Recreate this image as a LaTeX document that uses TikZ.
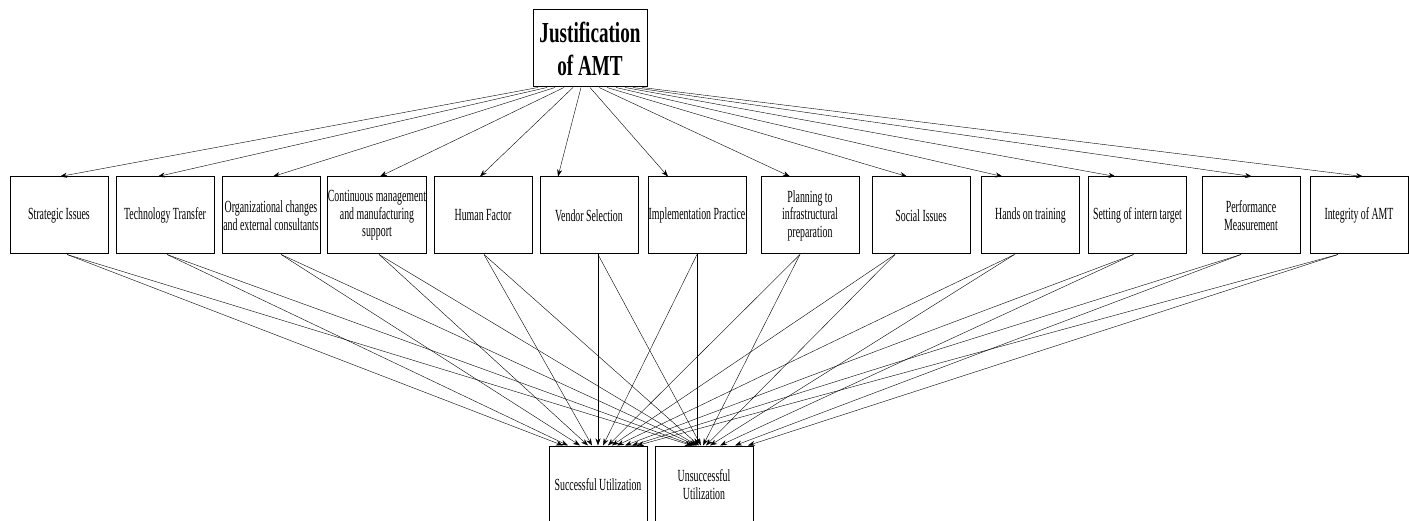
\documentclass[tikz,border=0pt]{standalone}
\usepackage{fontspec}
\usepackage{tikz}
\usetikzlibrary{arrows.meta}
\usetikzlibrary{positioning,calc}
\newfontfamily\boxfont{Liberation Serif}[FakeStretch=0.58]
\newfontfamily\titlefont{Liberation Serif}[FakeStretch=0.66]
\tikzset{
	every node/.style={font=\boxfont\fontsize{17}{17.5}\selectfont}
}
\tikzset{
	title node/.style={rectangle,draw,line width=1pt,minimum width=114pt,minimum height=77pt,
		align=center,inner sep=1pt,font=\titlefont\bfseries\fontsize{29}{33}\selectfont}
}
\tikzset{
	->,>={Stealth[length=7pt,width=5pt]},line width=0.9pt,x=1pt,y=-1pt,
	main node/.style={rectangle,draw,line width=1pt,minimum width=98pt,minimum height=77pt,
		align=center,inner sep=0pt}
}
\begin{document}
\begin{tikzpicture}
      \useasboundingbox (0,0) rectangle (1409,521);
      \node[title node] (just) at (590,48.5) {Justification\\of AMT};
      % factors
      \node[main node] (strat) at (59,215.5) {Strategic Issues};
      \node[main node] (tech) at (165,215.5) {Technology Transfer};
      \node[main node] (org) at (271,215.5) {Organizational changes\\and external consultants};
      \node[main node] (cont) at (377,215.5) {Continuous management\\and manufacturing\\support};
      \node[main node] (human) at (483,215.5) {Human Factor};
      \node[main node] (vendor) at (589,215.5) {Vendor Selection};
      \node[main node] (impl) at (697,215.5) {Implementation Practice};
      \node[main node] (plan) at (810,215.5) {Planning to\\infrastructural\\preparation};
      \node[main node] (social) at (921,215.5) {Social Issues};
      \node[main node] (hands) at (1030.5,215.5) {Hands on training};
      \node[main node] (target) at (1137.5,215.5) {Setting of intern target};
      \node[main node] (perf) at (1251,215.5) {Performance\\Measurement};
      \node[main node] (integ) at (1359,215.5) {Integrity of AMT};
      % outcomes
      \node[main node] (succ) at (598,484.5) {Successful Utilization};
      \node[main node] (unsucc) at (704,484.5) {Unsuccessful\\Utilization};
      % justification to factors
      \path ([xshift=-52pt]just.south) edge ([xshift=1pt]strat.north);
      \path ([xshift=-43pt]just.south) edge ([xshift=-7pt]tech.north);
      \path ([xshift=-35pt]just.south) edge ([xshift=2pt]org.north);
      \path ([xshift=-26pt]just.south) edge ([xshift=3pt]cont.north);
      \path ([xshift=-17pt]just.south) edge ([xshift=-3pt]human.north);
      \path ([xshift=-9pt]just.south) edge ([xshift=-31pt]vendor.north);
      \path (just.south) edge ([xshift=-29pt]impl.north);
      \path ([xshift=9pt]just.south) edge ([xshift=-20pt]plan.north);
      \path ([xshift=17pt]just.south) edge ([xshift=-14pt]social.north);
      \path ([xshift=26pt]just.south) edge ([xshift=-28pt]hands.north);
      \path ([xshift=35pt]just.south) edge ([xshift=-22pt]target.north);
      \path ([xshift=43pt]just.south) edge ([xshift=1pt]perf.north);
      \path ([xshift=52pt]just.south) edge ([xshift=4pt]integ.north);
      % factors to outcomes
      \path ([xshift=8pt]strat.south) edge ([xshift=-35pt]succ.north) edge ([xshift=-12pt]unsucc.north);
      \path ([xshift=2pt]tech.south) edge ([xshift=-30pt]succ.north) edge ([xshift=-10pt]unsucc.north);
      \path ([xshift=10pt]org.south) edge ([xshift=-18pt]succ.north) edge ([xshift=-8pt]unsucc.north);
      \path ([xshift=2pt]cont.south) edge ([xshift=-10pt]succ.north) edge ([xshift=-7pt]unsucc.north);
      \path ([xshift=1pt]human.south) edge ([xshift=-6pt]succ.north) edge ([xshift=-5pt]unsucc.north);
      \path ([xshift=9pt]vendor.south) edge (succ.north) edge ([xshift=-3pt]unsucc.north);
      \path (impl.south) edge ([xshift=5pt]succ.north) edge ([xshift=-7pt]unsucc.north);
      \path ([xshift=-10pt]plan.south) edge ([xshift=10pt]succ.north) edge ([xshift=-1pt]unsucc.north);
      \path ([xshift=-26pt]social.south) edge ([xshift=14pt]succ.north) edge ([xshift=2pt]unsucc.north);
      \path ([xshift=-16pt]hands.south) edge ([xshift=19pt]succ.north) edge ([xshift=6pt]unsucc.north);
      \path ([xshift=-4pt]target.south) edge ([xshift=27pt]succ.north) edge ([xshift=16pt]unsucc.north);
      \path ([xshift=-10pt]perf.south) edge ([xshift=34pt]succ.north) edge ([xshift=31pt]unsucc.north);
      \path ([xshift=-21pt]integ.south) edge ([xshift=39pt]succ.north) edge ([xshift=44pt]unsucc.north);
\end{tikzpicture}
\end{document}
